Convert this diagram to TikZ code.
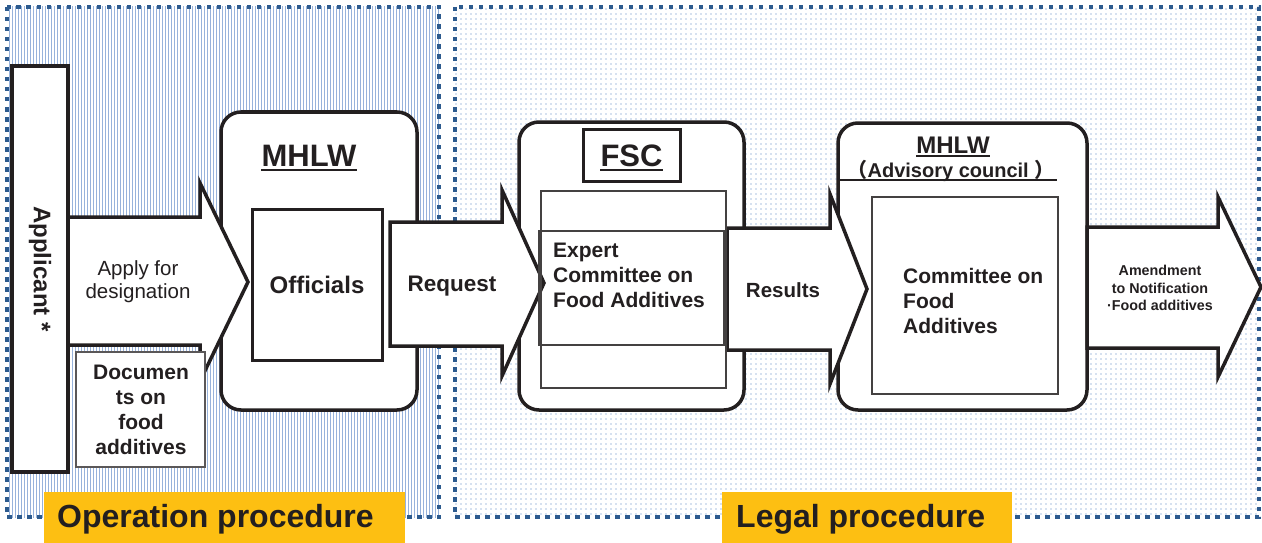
\documentclass[tikz,border=0pt]{standalone}
\usepackage{fontspec}
\setmainfont{Liberation Sans}
\newfontfamily\cjk{Noto Sans CJK SC}
\usetikzlibrary{patterns.meta}
\definecolor{bordblue}{HTML}{2C5A8E}
\definecolor{lineblue}{HTML}{5F88C8}
\definecolor{dotblue}{HTML}{4F7CBE}
\definecolor{labyellow}{HTML}{FDBF12}
\definecolor{ink}{HTML}{231F20}
\newcommand{\fsz}[2]{\fontsize{#1pt}{#2pt}\selectfont}
\tikzdeclarepattern{
  name=mydots, type=uncolored,
  bounding box={(0pt,0pt) and (4.5pt,4.5pt)},
  tile size={(4.5pt,4.5pt)},
  code={\fill (2.25pt,2.25pt) circle (0.75pt);}
}
\tikzdeclarepattern{
  name=myvlines, type=uncolored,
  bounding box={(0pt,0pt) and (3.3pt,1pt)},
  tile size={(3.3pt,1pt)},
  code={\fill (0pt,0pt) rectangle (1.2pt,1pt);}
}
\tikzset{
  region/.style={draw=bordblue, line width=4pt, dash pattern=on 4.5pt off 5.5pt},
  thickbox/.style={draw=ink, line width=3.5pt, fill=white, inner sep=0pt, outer sep=0pt},
  rbox/.style={thickbox, rounded corners=20pt},
  blockarrow/.style={draw=ink, line width=3.5pt, fill=white, line join=miter},
  thinbox/.style={draw=ink!85, line width=1.3pt, inner sep=0pt, outer sep=0pt},
  docbox/.style={draw=ink!75, line width=1.5pt, fill=white, inner sep=0pt, outer sep=0pt},
  lbl/.style={text=ink, inner sep=0pt, font=\bfseries\fsz{21}{25}},
  uline/.style={draw=ink, line width=2pt},
  ylabel/.style={fill=labyellow, inner sep=0pt, outer sep=0pt, minimum height=51pt},
}
\begin{document}
\begin{tikzpicture}[x=1pt, y=-1pt]
\useasboundingbox (0,0) rectangle (1262,543);
% regions
\fill[pattern=myvlines, pattern color=lineblue] (7,7) rectangle (439,517);
\fill[pattern=mydots, pattern color=dotblue] (455,7) rectangle (1259,517);
\draw[region] (7,7) rectangle (439,517);
\draw[region] (455,7) rectangle (1259,517);
% yellow labels
\node[ylabel, minimum width=361pt] (oplab) at (224.5,517.5) {};
\node[ylabel, minimum width=290pt] (leglab) at (867,517.5) {};
\node[anchor=west, text=ink, inner sep=0pt, font=\bfseries\fsz{32}{36}] (optext) at (57,519) {Operation procedure};
\node[anchor=west, text=ink, inner sep=0pt, font=\bfseries\fsz{32}{36}] (legtext) at (736,519) {Legal procedure};
% main boxes
\node[thickbox, minimum width=56pt, minimum height=406pt] (applicant) at (40,269) {};
\node[rbox, minimum width=196pt, minimum height=298pt] (mhlw) at (319,261) {};
\node[rbox, minimum width=225pt, minimum height=288pt] (fsc) at (631.5,266) {};
\node[rbox, minimum width=249pt, minimum height=287pt] (adv) at (962.5,266.5) {};
% block arrows
\draw[blockarrow] (68,217) -- (200,217) -- (200,183) -- (248,282) -- (200,381) -- (200,345) -- (68,345) -- cycle;
\draw[blockarrow] (390,222) -- (502,222) -- (502,190) -- (544,283) -- (502,376) -- (502,346) -- (390,346) -- cycle;
\draw[blockarrow] (727,228) -- (830,228) -- (830,194) -- (867,289) -- (830,384) -- (830,350) -- (727,350) -- cycle;
\draw[blockarrow] (1087,227) -- (1218,227) -- (1218,197) -- (1261,287) -- (1218,377) -- (1218,348) -- (1087,348) -- cycle;
% inner boxes
\node[docbox, minimum width=129pt, minimum height=115pt] (docs) at (140.5,409.5) {};
\node[thickbox, line width=3pt, minimum width=130pt, minimum height=151pt] (officials) at (317,284.5) {};
\node[thickbox, line width=3pt, minimum width=97pt, minimum height=52pt] (fsclab) at (631.5,155) {};
\node[thinbox, minimum width=185pt, minimum height=197pt] (fscin) at (633.5,289.5) {};
\node[thinbox, minimum width=185pt, minimum height=114pt] (expert) at (631.5,288) {};
\node[thinbox, minimum width=186pt, minimum height=197pt] (advin) at (965,295.5) {};
\draw[ink, line width=1.8pt] (adv.west |- 0,180) coordinate (ul1) -- (1057,180) coordinate (ul2);
% texts
\node[lbl, rotate=-90, font=\bfseries\fsz{24}{28}] (applt) at (applicant.center) {Applicant *};
\node[lbl, font=\fsz{20.5}{23}, align=center] (applyt) at (138,282) {Apply for\\designation};
\node[lbl, align=center] (docst) at (141,410) {Documen\\ts on\\food\\additives};
\node[lbl, font=\bfseries\fsz{31}{34}, anchor=base] (mhlwt) at (309,166) {MHLW};
\draw[uline] ([yshift=-3.5pt]mhlwt.base west) -- ([yshift=-3.5pt]mhlwt.base east);
\node[lbl, font=\bfseries\fsz{24}{28}] (offt) at (officials.center) {Officials};
\node[lbl, font=\bfseries\fsz{22.5}{26}] (reqt) at (452,286) {Request};
\node[lbl, font=\bfseries\fsz{31}{34}, anchor=base] (fsct) at (631.5,166) {FSC};
\draw[uline] ([yshift=-3.5pt]fsct.base west) -- ([yshift=-3.5pt]fsct.base east);
\node[lbl, align=left, anchor=west] (expt) at (553,275) {Expert\\Committee on\\Food Additives};
\node[lbl, font=\bfseries\fsz{20.5}{24}] (rest) at (783,290) {Results};
\node[lbl, font=\bfseries\fsz{24}{28}, anchor=base] (mhlw2t) at (953,153) {MHLW};
\draw[uline, line width=1.7pt] ([yshift=-3pt]mhlw2t.base west) -- ([yshift=-3pt]mhlw2t.base east);
\node[lbl, font=\bfseries\fsz{20}{24}] (advt) at (951,171) {{\cjk （}Advisory council {\cjk ）}};
\node[lbl, align=left, anchor=west] (comt) at (903,301) {Committee on\\Food\\Additives};
\node[lbl, align=center, font=\bfseries\fsz{14.3}{17.5}] (amt) at (1160,288) {Amendment\\to Notification\\·Food additives};
\end{tikzpicture}
\end{document}
